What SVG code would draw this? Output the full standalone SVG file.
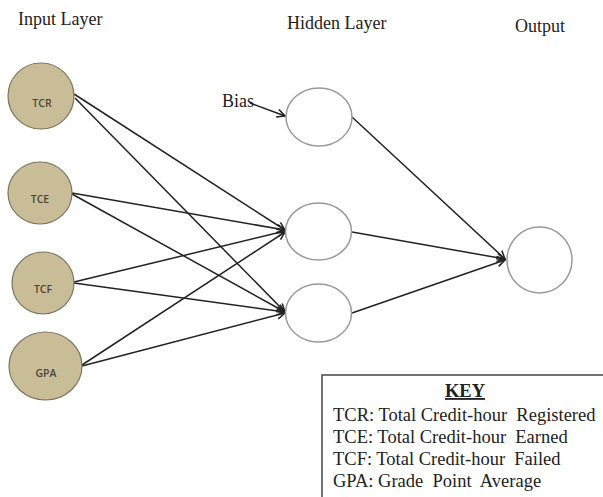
<svg xmlns="http://www.w3.org/2000/svg" width="603" height="497" viewBox="0 0 603 497">
<style>
.title{font-family:"Liberation Serif","Times New Roman",serif;font-size:18px;fill:#222}
.key{font-family:"Liberation Serif","Times New Roman",serif;font-size:18.5px;fill:#222}
.inp{fill:#c8bd97;stroke:#7a7560;stroke-width:1.2}
.hid{fill:#fff;stroke:#999;stroke-width:1.5}
.lbl{font-family:"Open Sans","DejaVu Sans",sans-serif;font-size:10.5px;font-weight:600;fill:#4a4638;text-anchor:middle}
.edge{stroke:#222;stroke-width:1.5;fill:none;marker-end:url(#arr)}
</style>
<defs>
<marker id="arr" markerWidth="10" markerHeight="10" refX="9" refY="5" orient="auto" markerUnits="userSpaceOnUse">
<path d="M1,1 L9,5 L1,9" fill="none" stroke="#222" stroke-width="1.5"/>
</marker>
</defs>
<text class="title" x="18" y="25">Input Layer</text>
<text class="title" x="287" y="29">Hidden Layer</text>
<text class="title" x="515" y="32">Output</text>
<text class="title" x="222" y="107">Bias</text>
<g id="connectors">
<line class="edge" x1="250" y1="103" x2="285" y2="116"/>
<line class="edge" x1="74" y1="94" x2="285" y2="230"/>
<line class="edge" x1="75" y1="98" x2="285" y2="312"/>
<line class="edge" x1="72" y1="193" x2="285" y2="230"/>
<line class="edge" x1="72" y1="194" x2="285" y2="312"/>
<line class="edge" x1="74" y1="282" x2="285" y2="231"/>
<line class="edge" x1="74" y1="283" x2="285" y2="312"/>
<line class="edge" x1="82" y1="365" x2="285" y2="232"/>
<line class="edge" x1="82" y1="366" x2="285" y2="313"/>
<line class="edge" x1="352" y1="117" x2="505" y2="259"/>
<line class="edge" x1="352" y1="232" x2="505" y2="259"/>
<line class="edge" x1="352" y1="313" x2="505" y2="260"/>
</g>
<g id="TCR"><ellipse class="inp" cx="41" cy="96" rx="33" ry="33"/><text class="lbl" x="42" y="107">TCR</text></g>
<g id="TCE"><ellipse class="inp" cx="40" cy="193" rx="32" ry="31"/><text class="lbl" x="40" y="203">TCE</text></g>
<g id="TCF"><ellipse class="inp" cx="43" cy="283" rx="31" ry="31"/><text class="lbl" x="43" y="293">TCF</text></g>
<g id="GPA"><ellipse class="inp" cx="45.5" cy="366" rx="36.5" ry="34"/><text class="lbl" x="46" y="377">GPA</text></g>
<g id="H1"><ellipse class="hid" cx="319" cy="117" rx="33" ry="29"/></g>
<g id="H2"><ellipse class="hid" cx="318.5" cy="231.5" rx="33" ry="28.5"/></g>
<g id="H3"><ellipse class="hid" cx="318.5" cy="313" rx="33" ry="29"/></g>
<g id="Out"><ellipse class="hid" cx="539.5" cy="260" rx="32.5" ry="33"/></g>
<g id="key">
<path d="M322,497 V375 H603" fill="none" stroke="#444" stroke-width="1.5"/>
<text class="key" x="465" y="397" text-anchor="middle" font-weight="bold" text-decoration="underline">KEY</text>
<text class="key" x="333" y="421">TCR: Total Credit-hour&#160; Registered</text>
<text class="key" x="333" y="443">TCE: Total Credit-hour&#160; Earned</text>
<text class="key" x="333" y="465">TCF: Total Credit-hour&#160; Failed</text>
<text class="key" x="333" y="487">GPA: Grade&#160; Point&#160; Average</text>
</g>
</svg>
